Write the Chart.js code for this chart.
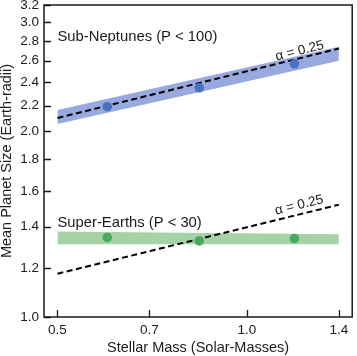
<!DOCTYPE html>
<html><head><meta charset="utf-8">
<script src="https://cdn.jsdelivr.net/npm/chart.js@4/dist/chart.umd.min.js"></script>
<style>html,body{margin:0;padding:0;background:#fff;} canvas{display:block;}</style>
</head><body>
<canvas id="c" width="357" height="356"></canvas>
<script>
// ---- data ----
const stellarMass = [0.6, 0.84, 1.19];
const subNeptuneSize = [2.19, 2.35, 2.57];
const superEarthSize = [1.345, 1.328, 1.34];
const fitMass = [0.5, 1.4];
const subNeptuneFit = [2.10, 2.72];
const superEarthFit = [1.175, 1.52];
const subNeptuneBandHi = [2.163, 2.739];
const subNeptuneBandLo = [2.053, 2.599];
const superEarthBandHi = [1.375, 1.362];
const superEarthBandLo = [1.311, 1.311];
const xTicks = [0.5, 0.7, 1.0, 1.4];
const yTicks = [1.0, 1.2, 1.4, 1.6, 1.8, 2.0, 2.2, 2.4, 2.6, 2.8, 3.0, 3.2];
const groupLabels = ['Sub-Neptunes (P < 100)', 'Super-Earths (P < 30)'];
const slopeLabel = 'α = 0.25';

const FONT = "'Liberation Sans', Arial, sans-serif";
const TEXT = '#1a1a1a';
const pts = (xs, ys) => xs.map((x, i) => ({x: x, y: ys[i]}));

const deco = {
  id: 'deco',
  afterDraw(chart) {
    const ctx = chart.ctx, a = chart.chartArea, x = chart.scales.x, y = chart.scales.y;
    ctx.save();
    ctx.strokeStyle = TEXT;
    ctx.lineWidth = 1.3;
    ctx.beginPath();
    xTicks.forEach(v => { const px = Math.round(x.getPixelForValue(v)) + 0.5; ctx.moveTo(px, a.bottom); ctx.lineTo(px, a.bottom - 7); });
    yTicks.forEach(v => { const py = Math.round(y.getPixelForValue(v)) + 0.5; ctx.moveTo(a.left, py); ctx.lineTo(a.left + 7, py); });
    ctx.stroke();
    ctx.lineWidth = 1.5;
    ctx.strokeRect(a.left, a.top, a.right - a.left, a.bottom - a.top);

    ctx.fillStyle = TEXT;
    ctx.font = '14.8px ' + FONT;
    ctx.textAlign = 'left';
    ctx.textBaseline = 'middle';
    ctx.fillText(groupLabels[0], x.getPixelForValue(0.5), y.getPixelForValue(2.843));
    ctx.fillText(groupLabels[1], x.getPixelForValue(0.5), y.getPixelForValue(1.421));

    ctx.font = '13.5px ' + FONT;
    ctx.textAlign = 'center';
    [[subNeptuneFit, 7], [superEarthFit, 9]].forEach(([fit, off]) => {
      const x0 = x.getPixelForValue(fitMass[0]), y0 = y.getPixelForValue(fit[0]);
      const x1 = x.getPixelForValue(fitMass[1]), y1 = y.getPixelForValue(fit[1]);
      const ang = Math.atan2(y1 - y0, x1 - x0);
      const px = x.getPixelForValue(1.22);
      const t = (px - x0) / (x1 - x0);
      const py = y0 + t * (y1 - y0);
      ctx.save();
      ctx.translate(px + off * Math.sin(ang), py - off * Math.cos(ang));
      ctx.rotate(ang);
      ctx.fillText(slopeLabel, 0, 0);
      ctx.restore();
    });
    ctx.restore();
  }
};

const zeroPad = s => { s.paddingLeft = 0; s.paddingRight = 0; s.paddingTop = 0; s.paddingBottom = 0; };

new Chart(document.getElementById('c'), {
  type: 'line',
  data: {
    datasets: [
      {label: 'Sub-Neptunes', data: pts(stellarMass, subNeptuneSize), showLine: false, pointRadius: 4.8, pointBackgroundColor: '#4a72be', pointBorderWidth: 0, order: 0},
      {label: 'Super-Earths', data: pts(stellarMass, superEarthSize), showLine: false, pointRadius: 4.8, pointBackgroundColor: '#4aaa5e', pointBorderWidth: 0, order: 0},
      {label: 'fitSN', data: pts(fitMass, subNeptuneFit), borderColor: '#000', borderWidth: 2, borderDash: [6, 3.5], pointRadius: 0, fill: false, order: 1},
      {label: 'fitSE', data: pts(fitMass, superEarthFit), borderColor: '#000', borderWidth: 2, borderDash: [6, 3.5], pointRadius: 0, fill: false, order: 1},
      {label: 'snHi', data: pts(fitMass, subNeptuneBandHi), borderWidth: 0, borderColor: 'rgba(0,0,0,0)', pointRadius: 0, fill: false, order: 2},
      {label: 'snLo', data: pts(fitMass, subNeptuneBandLo), borderWidth: 0, borderColor: 'rgba(0,0,0,0)', pointRadius: 0, fill: '-1', backgroundColor: '#97a9de', order: 2},
      {label: 'seHi', data: pts(fitMass, superEarthBandHi), borderWidth: 0, borderColor: 'rgba(0,0,0,0)', pointRadius: 0, fill: false, order: 2},
      {label: 'seLo', data: pts(fitMass, superEarthBandLo), borderWidth: 0, borderColor: 'rgba(0,0,0,0)', pointRadius: 0, fill: '-1', backgroundColor: '#a5d3a6', order: 2}
    ]
  },
  options: {
    responsive: false,
    animation: false,
    devicePixelRatio: 1,
    layout: {padding: {top: 5, right: 1, left: 0, bottom: 0}},
    plugins: {legend: {display: false}, tooltip: {enabled: false}},
    scales: {
      x: {
        type: 'logarithmic', min: 0.476, max: 1.47, offset: false,
        afterBuildTicks: s => { s.ticks = xTicks.map(v => ({value: v})); },
        afterFit: s => { s.height = 39; zeroPad(s); },
        ticks: {callback: v => Number(v).toFixed(1), font: {family: FONT, size: 13.5}, color: TEXT, padding: 5, autoSkip: false, maxRotation: 0, minRotation: 0},
        grid: {display: false, drawTicks: false},
        border: {display: false},
        title: {display: true, text: 'Stellar Mass (Solar-Masses)', font: {family: FONT, size: 14.5, lineHeight: 1.1}, color: TEXT, padding: {top: 0, bottom: 0}}
      },
      y: {
        type: 'logarithmic', min: 1.0, max: 3.2,
        afterBuildTicks: s => { s.ticks = yTicks.map(v => ({value: v})); },
        afterFit: s => { s.width = 44; zeroPad(s); },
        ticks: {callback: v => Number(v).toFixed(1), font: {family: FONT, size: 13.5}, color: TEXT, padding: 5, autoSkip: false},
        grid: {display: false, drawTicks: false},
        border: {display: false},
        title: {display: true, text: 'Mean Planet Size (Earth-radii)', font: {family: FONT, size: 14.5, lineHeight: 1.0}, color: TEXT, padding: {top: 0, bottom: 0}}
      }
    }
  },
  plugins: [deco]
});
</script>
</body></html>
